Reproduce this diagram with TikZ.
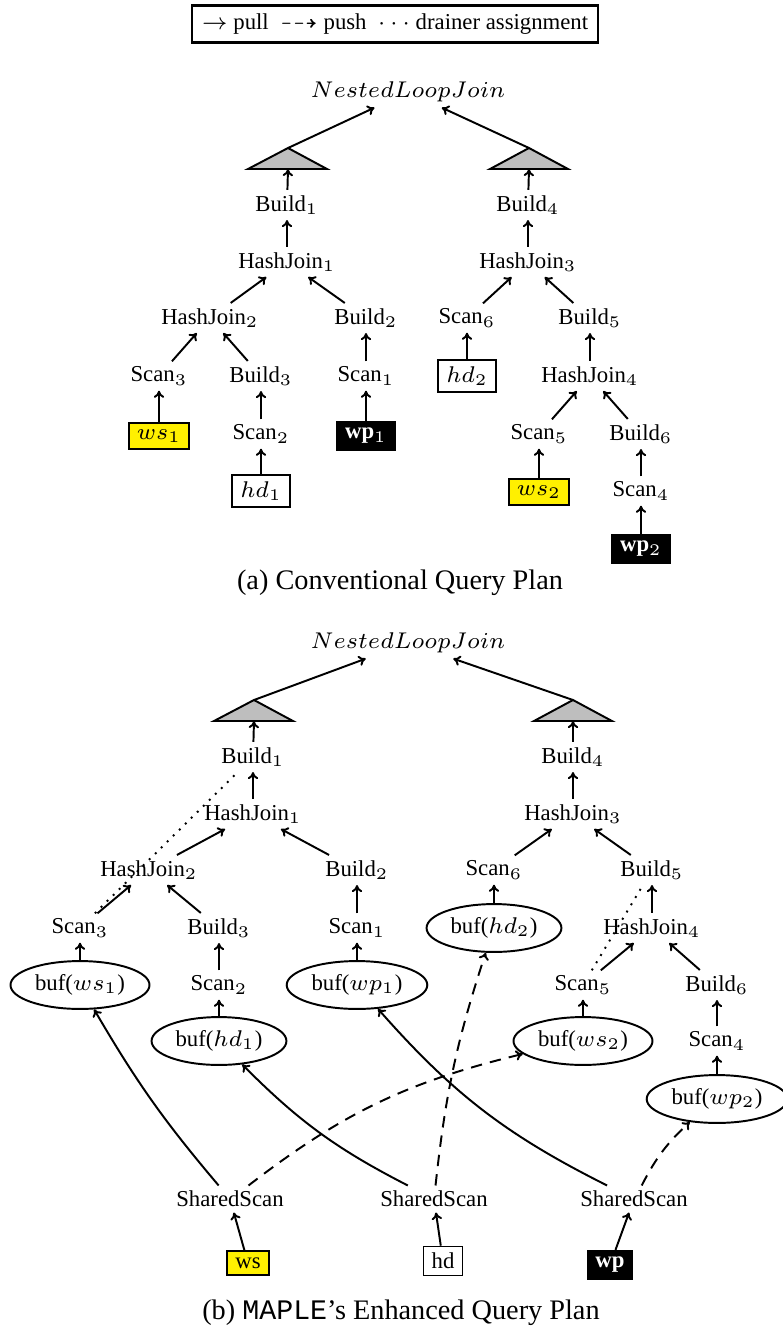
\documentclass[tikz,border=0pt]{standalone}
\usepackage{amssymb}
\usepackage[no-math]{fontspec}
\setmainfont{Liberation Serif}
\setmonofont{Liberation Mono}
\usetikzlibrary{shapes.geometric,arrows.meta}
\definecolor{srcyellow}{RGB}{255,240,0}
\definecolor{trigray}{RGB}{190,190,190}
\newcommand{\opsize}{\fontsize{7}{8.4}\selectfont}
\newcommand{\capsize}{\fontsize{8.7}{10.4}\selectfont}
\begin{document}
\begin{tikzpicture}[x=0.3077pt, y=-0.3077pt,
  op/.style={inner sep=1.5pt, font=\opsize},
  src/.style={draw, line width=0.5pt, inner xsep=2.5pt, inner ysep=2pt, font=\opsize},
  wsbox/.style={src, fill=srcyellow},
  hdbox/.style={src, fill=white},
  wpbox/.style={src, fill=black, text=white},
  buf/.style={ellipse, draw, line width=0.6pt, inner xsep=1.3pt, inner ysep=2pt, font=\opsize},
  pull/.style={-{To[length=2.2pt,width=3.2pt]}, line width=0.6pt},
  push/.style={pull, dash pattern=on 3.5pt off 2.5pt},
  drain/.style={line width=0.6pt, dotted},
  tri/.style={draw, fill=trigray, line width=0.6pt, line join=miter},
  caption/.style={font=\capsize, inner sep=0pt}]
\useasboundingbox (0,0) rectangle (783,1332);

% legend
\node[draw, line width=0.7pt, inner xsep=3pt, inner ysep=2.5pt, font=\opsize] (legend) at (395,24)
  {$\rightarrow$ pull\ \ $\dashrightarrow$ push\ \ $\cdots$ drainer assignment};

% ---------------- (a) conventional plan ----------------
\node[op] (nlja) at (408,92) {$NestedLoopJoin$};
\draw[tri] (288,148) -- (327,169) -- (248,169) -- cycle;
\draw[tri] (529,148) -- (568,169) -- (490,169) -- cycle;
\coordinate (ta1) at (288,148); \coordinate (ta1b) at (288,169);
\coordinate (ta2) at (529,148); \coordinate (ta2b) at (529,169);

\node[op] (build1a) at (287,205) {Build$_1$};
\node[op] (build4a) at (528,205) {Build$_4$};
\node[op] (hj1a) at (287,262) {HashJoin$_1$};
\node[op] (hj3a) at (528,262) {HashJoin$_3$};
\node[op] (hj2a) at (210,318) {HashJoin$_2$};
\node[op] (build2a) at (366,318) {Build$_2$};
\node[op] (scan6a) at (467,318) {Scan$_6$};
\node[op] (build5a) at (590,318) {Build$_5$};
\node[op] (scan3a) at (159,376) {Scan$_3$};
\node[op] (build3a) at (261,376) {Build$_3$};
\node[op] (scan1a) at (366,376) {Scan$_1$};
\node[hdbox] (hd2a) at (467,376) {$hd_2$};
\node[op] (hj4a) at (590,376) {HashJoin$_4$};
\node[wsbox] (ws1a) at (159,436) {$ws_1$};
\node[op] (scan2a) at (261,434) {Scan$_2$};
\node[wpbox] (wp1a) at (366,436) {\textbf{wp}$_1$};
\node[op] (scan5a) at (539,434) {Scan$_5$};
\node[op] (build6a) at (641,434) {Build$_6$};
\node[hdbox] (hd1a) at (261,491) {$hd_1$};
\node[wsbox] (ws2a) at (539,492) {$ws_2$};
\node[op] (scan4a) at (641,491) {Scan$_4$};
\node[wpbox] (wp2a) at (641,549) {\textbf{wp}$_2$};

\draw[pull] (ta1) -- (nlja);
\draw[pull] (ta2) -- (nlja);
\draw[pull] (build1a) -- (ta1b);
\draw[pull] (build4a) -- (ta2b);
\draw[pull] (hj1a) -- (build1a);
\draw[pull] (hj3a) -- (build4a);
\draw[pull] (hj2a) -- (hj1a);
\draw[pull] (build2a) -- (hj1a);
\draw[pull] (scan6a) -- (hj3a);
\draw[pull] (build5a) -- (hj3a);
\draw[pull] (scan3a) -- (hj2a);
\draw[pull] (build3a) -- (hj2a);
\draw[pull] (scan1a) -- (build2a);
\draw[pull] (hd2a) -- (scan6a);
\draw[pull] (hj4a) -- (build5a);
\draw[pull] (ws1a) -- (scan3a);
\draw[pull] (scan2a) -- (build3a);
\draw[pull] (wp1a) -- (scan1a);
\draw[pull] (scan5a) -- (hj4a);
\draw[pull] (build6a) -- (hj4a);
\draw[pull] (hd1a) -- (scan2a);
\draw[pull] (ws2a) -- (scan5a);
\draw[pull] (scan4a) -- (build6a);
\draw[pull] (wp2a) -- (scan4a);

\node[caption] (capa) at (400,583) {(a) Conventional Query Plan};

% ---------------- (b) enhanced plan ----------------
\node[op] (nljb) at (408,643) {$NestedLoopJoin$};
\draw[tri] (254,700) -- (293,721) -- (214,721) -- cycle;
\draw[tri] (573,700) -- (612,721) -- (534,721) -- cycle;
\coordinate (tb1) at (254,700); \coordinate (tb1b) at (254,721);
\coordinate (tb2) at (573,700); \coordinate (tb2b) at (573,721);

\node[op] (build1b) at (253,757) {Build$_1$};
\node[op] (build4b) at (573,757) {Build$_4$};
\node[op] (hj1b) at (253,814) {HashJoin$_1$};
\node[op] (hj3b) at (573,814) {HashJoin$_3$};
\node[op] (hj2b) at (149,870) {HashJoin$_2$};
\node[op] (build2b) at (357,870) {Build$_2$};
\node[op] (scan6b) at (494,870) {Scan$_6$};
\node[op] (build5b) at (652,870) {Build$_5$};
\node[op] (scan3b) at (80,928) {Scan$_3$};
\node[op] (build3b) at (219,928) {Build$_3$};
\node[op] (scan1b) at (357,928) {Scan$_1$};
\node[buf] (bufhd2) at (494,928) {buf($hd_2$)};
\node[op] (hj4b) at (652,928) {HashJoin$_4$};
\node[buf] (bufws1) at (80,985) {buf($ws_1$)};
\node[op] (scan2b) at (219,985) {Scan$_2$};
\node[buf] (bufwp1) at (357,985) {buf($wp_1$)};
\node[op] (scan5b) at (583,985) {Scan$_5$};
\node[op] (build6b) at (717,985) {Build$_6$};
\node[buf] (bufhd1) at (219,1041) {buf($hd_1$)};
\node[buf] (bufws2) at (583,1041) {buf($ws_2$)};
\node[op] (scan4b) at (717,1041) {Scan$_4$};
\node[buf] (bufwp2) at (717,1099) {buf($wp_2$)};

\node[op] (ss1) at (230,1199) {SharedScan};
\node[op] (ss2) at (434,1199) {SharedScan};
\node[op] (ss3) at (634,1199) {SharedScan};
\node[wsbox] (wsb) at (248,1263) {ws};
\node[hdbox] (hdb) at (443,1261) {hd};
\node[wpbox] (wpb) at (610,1265) {\textbf{wp}};

\draw[pull] (tb1) -- (nljb);
\draw[pull] (tb2) -- (nljb);
\draw[pull] (build1b) -- (tb1b);
\draw[pull] (build4b) -- (tb2b);
\draw[pull] (hj1b) -- (build1b);
\draw[pull] (hj3b) -- (build4b);
\draw[pull] (hj2b) -- (hj1b);
\draw[pull] (build2b) -- (hj1b);
\draw[pull] (scan6b) -- (hj3b);
\draw[pull] (build5b) -- (hj3b);
\draw[pull] (scan3b) -- (hj2b);
\draw[pull] (build3b) -- (hj2b);
\draw[pull] (scan1b) -- (build2b);
\draw[pull] (bufhd2) -- (scan6b);
\draw[pull] (hj4b) -- (build5b);
\draw[pull] (bufws1) -- (scan3b);
\draw[pull] (scan2b) -- (build3b);
\draw[pull] (bufwp1) -- (scan1b);
\draw[pull] (scan5b) -- (hj4b);
\draw[pull] (build6b) -- (hj4b);
\draw[pull] (bufhd1) -- (scan2b);
\draw[pull] (bufws2) -- (scan5b);
\draw[pull] (scan4b) -- (build6b);
\draw[pull] (bufwp2) -- (scan4b);

% drainer assignments
\draw[drain] (scan3b) -- (build1b);
\draw[drain] (scan5b) -- (build5b);

% shared scans feeding the buffers
\draw[pull] (ss1) to[bend left=5] (bufws1);
\draw[pull] (ss2) to[bend left=9] (bufhd1);
\draw[pull] (ss3) to[bend left=11] (bufwp1);
\draw[push] (ss1) to[bend left=12] (bufws2);
\draw[push] (ss2) to[bend left=6] (bufhd2);
\draw[push] (ss3) to[bend left=10] (bufwp2);

\draw[pull] (wsb) -- (ss1);
\draw[pull] (hdb) -- (ss2);
\draw[pull] (wpb) -- (ss3);

\node[caption] (capb) at (401,1313) {(b) \texttt{MAPLE}'s Enhanced Query Plan};
\end{tikzpicture}
\end{document}
